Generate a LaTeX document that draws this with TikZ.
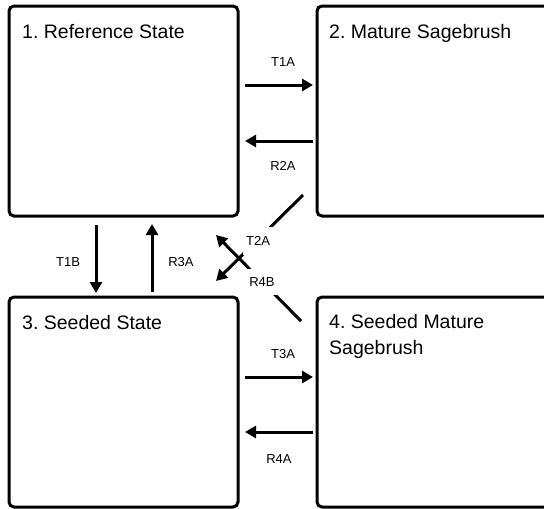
\documentclass[tikz,border=0pt]{standalone}
\usepackage{fontspec}
\setmainfont{Liberation Sans}
\usetikzlibrary{arrows.meta}
\frenchspacing
\begin{document}
\begin{tikzpicture}[x=1pt,y=-1pt,
  box/.style={draw, line width=3pt, rounded corners=5pt, inner sep=0pt},
  title/.style={anchor=base west, inner sep=0pt, font=\fontsize{19.5}{26}\selectfont},
  arr/.style={line width=3pt, -{Triangle[length=11pt,width=12pt]}},
  lab/.style={font=\fontsize{13}{15}\selectfont, inner sep=0pt},
  xlab/.style={lab, fill=white, inner xsep=3pt, inner ysep=9pt}]
\useasboundingbox (0,0) rectangle (544,509);
\clip (0,0) rectangle (544,509);
% boxes
\node[box, minimum width=229pt, minimum height=210pt] (b1) at (123.5,111) {};
\node[box, minimum width=243pt, minimum height=210pt] (b2) at (438.5,111) {};
\node[box, minimum width=229pt, minimum height=210pt] (b3) at (123.5,402) {};
\node[box, minimum width=243pt, minimum height=210pt] (b4) at (438.5,402) {};
% titles
\node[title] (t1) at (22,38) {1. Reference State};
\node[title] (t2) at (329,38) {2. Mature Sagebrush};
\node[title] (t3) at (22,329) {3. Seeded State};
\node[title] (t4) at (329,328) {4. Seeded Mature};
\node[title] (t4b) at (329,354) {Sagebrush};
% endpoints
\coordinate (t1a-s) at (245,85);   \coordinate (t1a-e) at (313,85);
\coordinate (r2a-s) at (313,141);  \coordinate (r2a-e) at (245,141);
\coordinate (t3a-s) at (245,377);  \coordinate (t3a-e) at (313,377);
\coordinate (r4a-s) at (313,432);  \coordinate (r4a-e) at (245,432);
\coordinate (t1b-s) at (96,225);   \coordinate (t1b-e) at (96,293);
\coordinate (r3a-s) at (152,292);  \coordinate (r3a-e) at (152,224);
\coordinate (t2a-s) at (303,195);  \coordinate (t2a-e) at (216,281);
\coordinate (r4b-s) at (301,321);  \coordinate (r4b-e) at (216,235);
% arrows
\draw[arr] (t1a-s) -- (t1a-e);
\draw[arr] (r2a-s) -- (r2a-e);
\draw[arr] (t3a-s) -- (t3a-e);
\draw[arr] (r4a-s) -- (r4a-e);
\draw[arr] (t1b-s) -- (t1b-e);
\draw[arr] (r3a-s) -- (r3a-e);
\draw[arr] (t2a-s) -- (t2a-e);
\draw[arr] (r4b-s) -- (r4b-e);
% labels
\node[lab] (l-t1a) at (283,62) {T1A};
\node[lab] (l-r2a) at (283,166) {R2A};
\node[lab] (l-t3a) at (283,354) {T3A};
\node[lab] (l-r4a) at (279,459) {R4A};
\node[lab] (l-t1b) at (68,262) {T1B};
\node[lab] (l-r3a) at (181,262) {R3A};
\node[xlab] (l-t2a) at (258,241) {T2A};
\node[xlab] (l-r4b) at (262,282) {R4B};
\end{tikzpicture}
\end{document}
